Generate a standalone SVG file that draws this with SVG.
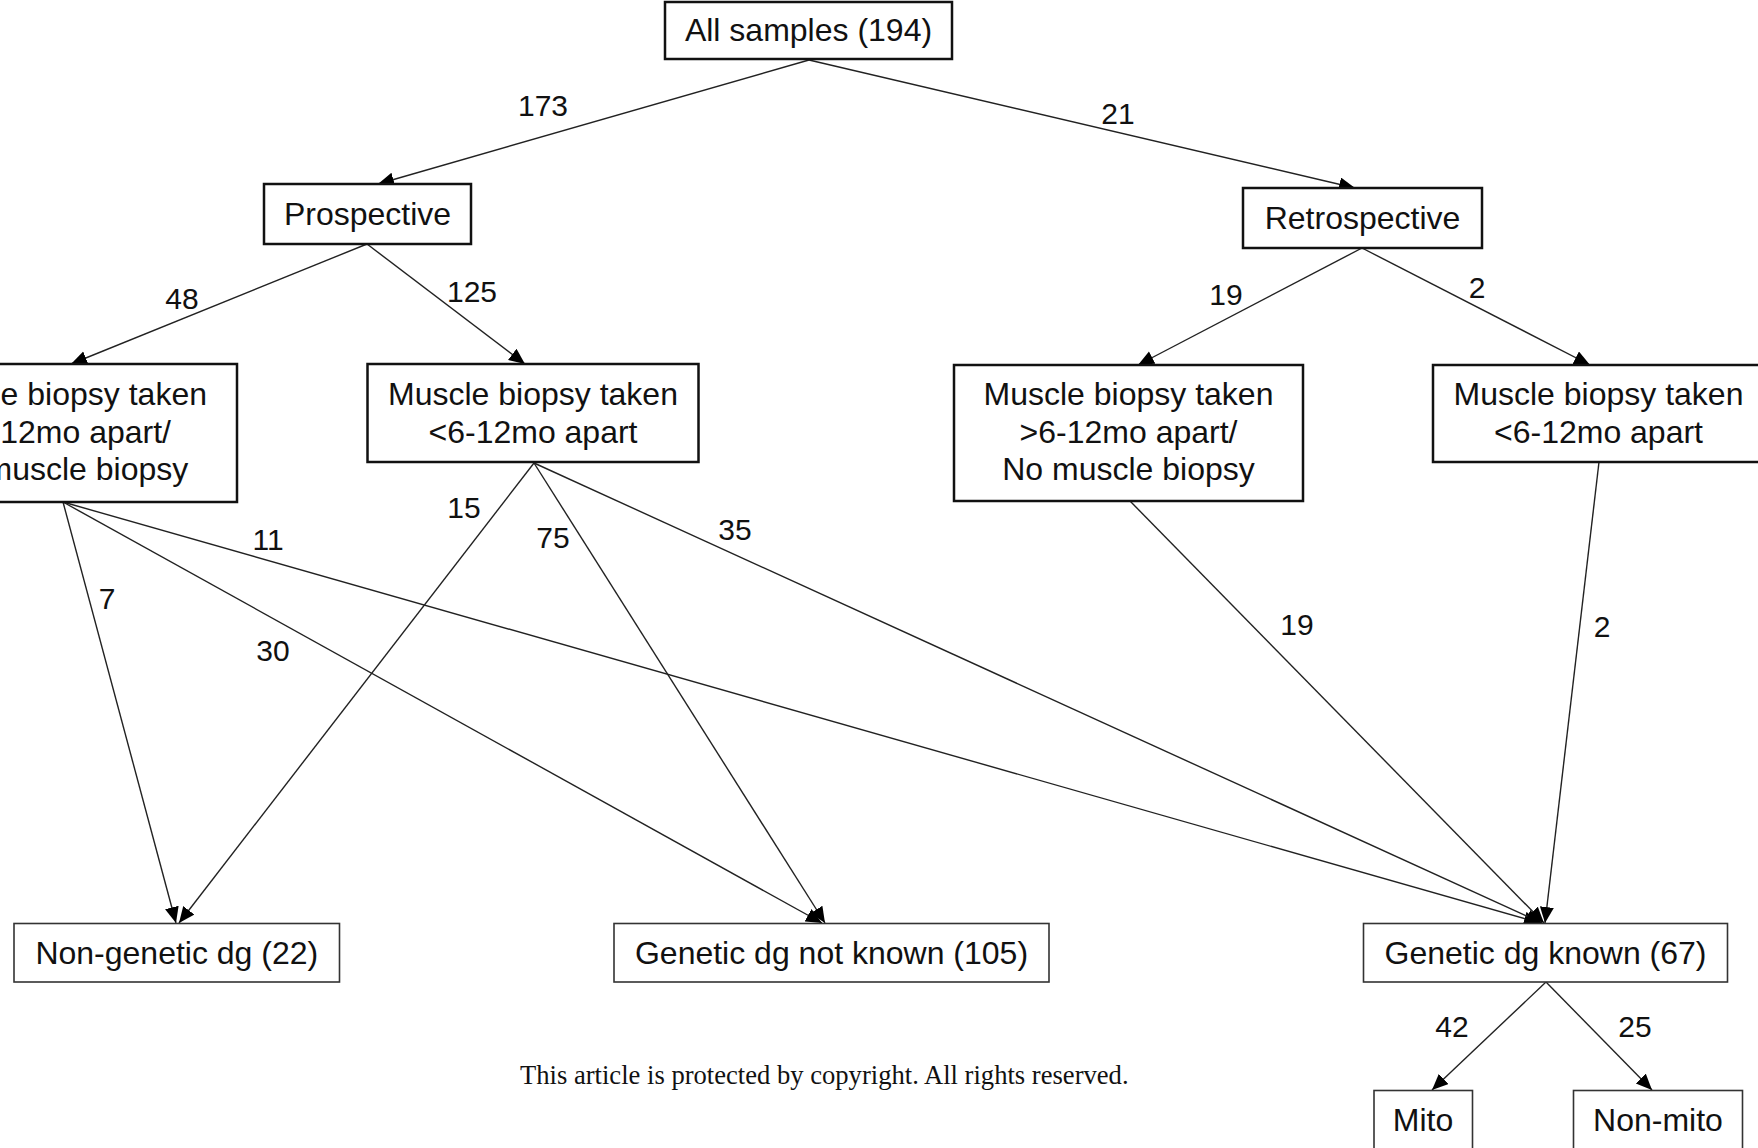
<svg xmlns="http://www.w3.org/2000/svg" width="1758" height="1148" viewBox="0 0 1758 1148">
<style>
  .box { fill: #fff; stroke: #111; stroke-width: 2.5; }
  .box2 { fill: #fff; stroke: #333; stroke-width: 1.6; }
  .nt { font-family: "Liberation Sans", Arial, sans-serif; font-size: 32px; fill: #111; text-anchor: middle; }
  .lbl { font-family: "Liberation Sans", Arial, sans-serif; font-size: 30px; fill: #111; text-anchor: middle; }
  .edge { stroke: #222; stroke-width: 1.4; fill: none; marker-end: url(#arr); }
  .note { font-family: "Liberation Serif", "Times New Roman", serif; font-size: 26.6px; fill: #111; }
</style>
<defs>
  <marker id="arr" markerUnits="userSpaceOnUse" markerWidth="17" markerHeight="15" refX="16" refY="7" orient="auto">
    <path d="M0,0 L16,7 L0,14 z" fill="#000"/>
  </marker>
</defs>
<rect x="0" y="0" width="1758" height="1148" fill="#fff"/>

<g id="connectors">
  <line class="edge" x1="809" y1="60" x2="378" y2="184"/>
  <line class="edge" x1="809" y1="60" x2="1355" y2="188"/>
  <line class="edge" x1="367" y1="244" x2="71" y2="364"/>
  <line class="edge" x1="367" y1="244" x2="525" y2="364"/>
  <line class="edge" x1="1362" y1="248" x2="1138" y2="365"/>
  <line class="edge" x1="1362" y1="248" x2="1590" y2="365"/>
  <line class="edge" x1="63" y1="502" x2="176" y2="923"/>
  <line class="edge" x1="63" y1="502" x2="822" y2="923"/>
  <line class="edge" x1="63" y1="502" x2="1540" y2="923"/>
  <line class="edge" x1="534" y1="463" x2="179" y2="923"/>
  <line class="edge" x1="534" y1="463" x2="825" y2="923"/>
  <line class="edge" x1="534" y1="463" x2="1542" y2="923"/>
  <line class="edge" x1="1130" y1="501" x2="1544" y2="923"/>
  <line class="edge" x1="1599" y1="462" x2="1545" y2="923"/>
  <line class="edge" x1="1546" y1="982" x2="1432" y2="1090"/>
  <line class="edge" x1="1546" y1="982" x2="1652" y2="1090"/>
  <text class="lbl" x="543" y="116">173</text>
  <text class="lbl" x="1118" y="124">21</text>
  <text class="lbl" x="182" y="309">48</text>
  <text class="lbl" x="472" y="302">125</text>
  <text class="lbl" x="1226" y="305">19</text>
  <text class="lbl" x="1477" y="298">2</text>
  <text class="lbl" x="107" y="609">7</text>
  <text class="lbl" x="268" y="550">11</text>
  <text class="lbl" x="273" y="661">30</text>
  <text class="lbl" x="464" y="518">15</text>
  <text class="lbl" x="553" y="548">75</text>
  <text class="lbl" x="735" y="540">35</text>
  <text class="lbl" x="1297" y="635">19</text>
  <text class="lbl" x="1602" y="637">2</text>
  <text class="lbl" x="1452" y="1037">42</text>
  <text class="lbl" x="1635" y="1037">25</text>
</g>

<g id="all-samples">
  <rect class="box" x="665" y="2" width="287" height="57"/>
  <text class="nt" x="808.5" y="41">All samples (194)</text>
</g>
<g id="prospective">
  <rect class="box" x="264" y="184" width="207" height="60"/>
  <text class="nt" x="367.5" y="225">Prospective</text>
</g>
<g id="retrospective">
  <rect class="box" x="1243" y="188" width="239" height="60"/>
  <text class="nt" x="1362.5" y="229">Retrospective</text>
</g>
<g id="pro-late">
  <rect class="box" x="-113" y="364" width="350" height="138"/>
  <text class="nt" x="62" y="405">Muscle biopsy taken</text>
  <text class="nt" x="62" y="442.5">&gt;6-12mo apart/</text>
  <text class="nt" x="62" y="480">No muscle biopsy</text>
</g>
<g id="pro-early">
  <rect class="box" x="367.5" y="364" width="331" height="98"/>
  <text class="nt" x="533" y="405">Muscle biopsy taken</text>
  <text class="nt" x="533" y="442.5">&lt;6-12mo apart</text>
</g>
<g id="retro-late">
  <rect class="box" x="954" y="365" width="349" height="136"/>
  <text class="nt" x="1128.5" y="405">Muscle biopsy taken</text>
  <text class="nt" x="1128.5" y="442.5">&gt;6-12mo apart/</text>
  <text class="nt" x="1128.5" y="480">No muscle biopsy</text>
</g>
<g id="retro-early">
  <rect class="box" x="1433" y="365" width="331" height="97"/>
  <text class="nt" x="1598.5" y="405">Muscle biopsy taken</text>
  <text class="nt" x="1598.5" y="442.5">&lt;6-12mo apart</text>
</g>
<g id="non-genetic">
  <rect class="box2" x="14" y="923.5" width="325.5" height="58.5"/>
  <text class="nt" x="176.8" y="964">Non-genetic dg (22)</text>
</g>
<g id="genetic-unknown">
  <rect class="box2" x="614" y="923.5" width="435" height="58.5"/>
  <text class="nt" x="831.5" y="964">Genetic dg not known (105)</text>
</g>
<g id="genetic-known">
  <rect class="box2" x="1363.5" y="923.5" width="364" height="58.5"/>
  <text class="nt" x="1545.5" y="964">Genetic dg known (67)</text>
</g>
<g id="mito">
  <rect class="box2" x="1374" y="1090.5" width="98.5" height="62"/>
  <text class="nt" x="1423" y="1131">Mito</text>
</g>
<g id="non-mito">
  <rect class="box2" x="1573.5" y="1090.5" width="169" height="62"/>
  <text class="nt" x="1658" y="1131">Non-mito</text>
</g>

<text class="note" x="520" y="1084">This article is protected by copyright. All rights reserved.</text>
</svg>
